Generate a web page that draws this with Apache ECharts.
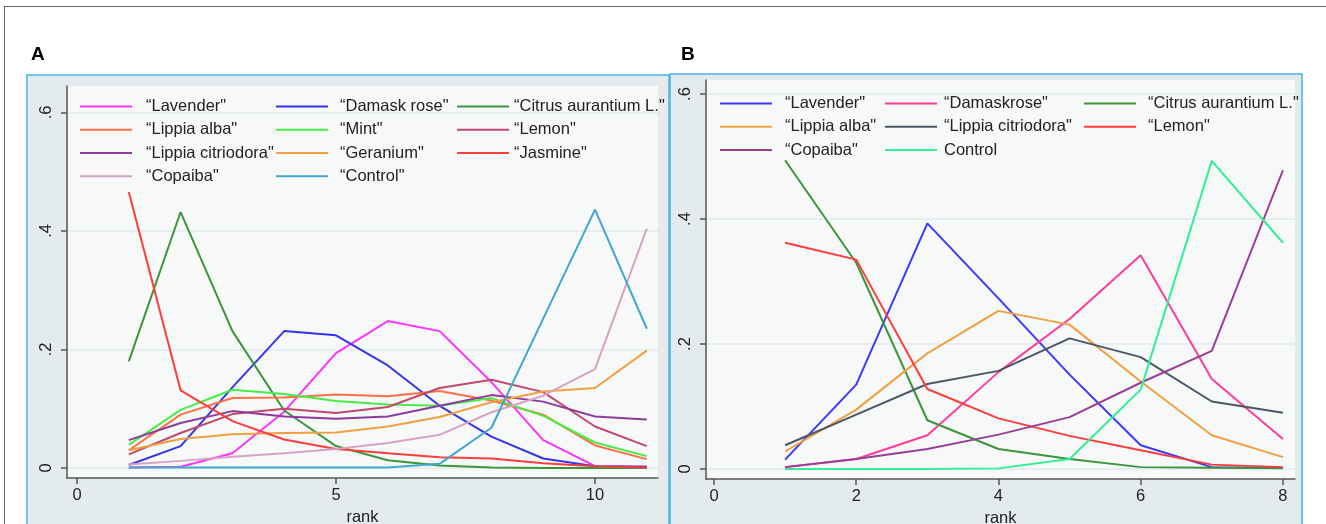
<!DOCTYPE html>
<html>
<head>
<meta charset="utf-8">
<script src="https://cdn.jsdelivr.net/npm/echarts@6/dist/echarts.min.js"></script>
<style>
html,body{margin:0;padding:0;background:#fff;width:1326px;height:524px;overflow:hidden;}
#frame{position:absolute;left:4px;top:6px;width:1330px;height:530px;border-top:1.5px solid #666;border-left:1.5px solid #666;}
#chartA{position:absolute;left:0;top:0;width:670px;height:524px;}
#chartB{position:absolute;left:669px;top:0;width:657px;height:524px;}
</style>
</head>
<body>
<div id="frame"></div>
<div id="chartA"></div>
<div id="chartB"></div>
<script>
// ---------- Panel A data ----------
const ranksA = [1,2,3,4,5,6,7,8,9,10,11];
const lavenderA   = [0.001,0.002,0.025,0.095,0.194,0.248,0.231,0.145,0.047,0.003,0.002];
const damaskRoseA = [0.005,0.037,0.136,0.231,0.224,0.173,0.105,0.053,0.016,0.003,0.002];
const citrusA     = [0.180,0.432,0.231,0.097,0.037,0.013,0.004,0.001,0.000,0.000,0.000];
const lippiaAlbaA = [0.030,0.090,0.118,0.119,0.124,0.121,0.130,0.114,0.090,0.038,0.015];
const mintA       = [0.039,0.098,0.132,0.125,0.113,0.107,0.105,0.118,0.088,0.043,0.020];
const lemonA      = [0.023,0.059,0.091,0.100,0.093,0.103,0.135,0.149,0.128,0.070,0.037];
const citriodoraA = [0.047,0.076,0.096,0.087,0.083,0.087,0.105,0.123,0.112,0.087,0.082];
const geraniumA   = [0.030,0.049,0.057,0.059,0.060,0.070,0.086,0.111,0.129,0.135,0.198];
const jasmineA    = [0.466,0.131,0.079,0.048,0.032,0.025,0.018,0.016,0.008,0.003,0.001];
const copaibaA    = [0.006,0.012,0.019,0.025,0.032,0.042,0.056,0.094,0.122,0.167,0.404];
const controlA    = [0.001,0.001,0.001,0.001,0.001,0.001,0.007,0.068,0.252,0.436,0.235];

// ---------- Panel B data ----------
const ranksB = [1,2,3,4,5,6,7,8];
const lavenderB   = [0.015,0.135,0.393,0.273,0.151,0.038,0.003,0.002];
const damaskRoseB = [0.003,0.016,0.054,0.155,0.240,0.342,0.144,0.048];
const citrusB     = [0.494,0.330,0.078,0.032,0.016,0.003,0.002,0.001];
const lippiaAlbaB = [0.028,0.095,0.185,0.253,0.231,0.140,0.054,0.019];
const citriodoraB = [0.038,0.087,0.136,0.157,0.209,0.179,0.108,0.090];
const lemonB      = [0.362,0.335,0.128,0.081,0.053,0.030,0.007,0.003];
const copaibaB    = [0.003,0.016,0.032,0.055,0.083,0.138,0.189,0.478];
const controlB    = [0.000,0.000,0.000,0.001,0.016,0.127,0.493,0.362];

// ---------- Tick labels ----------
const xTicksA = [0,5,10];
const xTicksB = [0,2,4,6,8];
const yTicks = [0,0.2,0.4,0.6];

const FONT = 'Liberation Sans';
const yFmt = v => (Math.abs(v) < 1e-9 ? '0' : String(+v.toFixed(1)).replace(/^0/, ''));

function pairs(xs, ys){ return xs.map((x,i)=>[x, ys[i]]); }
function mk(name, xs, ys, color){
  return {
    name: name, type: 'line', data: pairs(xs, ys), symbol: 'none', smooth: false,
    lineStyle: {width: 2, color: color}, itemStyle: {color: color}, z: 3
  };
}
function legendCol(left, top, names, pad){
  return {
    orient: 'vertical', left: left, top: top, padding: 0, itemGap: 0,
    itemWidth: 52, itemHeight: 2, icon: 'rect', selectedMode: false,
    data: names,
    textStyle: {fontFamily: FONT, fontSize: 16.5, color: '#222', lineHeight: 23.2, padding: [0,0,0,pad]}
  };
}
function axes(xmin, xmax, xticks, ymin, ymax){
  return {
    xAxis: {
      type: 'value', min: xmin, max: xmax, name: 'rank', nameLocation: 'middle', nameGap: 27,
      nameTextStyle: {fontFamily: FONT, fontSize: 16.5, color: '#222'},
      axisLine: {show: true, onZero: false, lineStyle: {color: '#555', width: 1.5}},
      axisTick: {show: true, inside: false, length: 6, customValues: xticks, lineStyle: {color: '#555', width: 1.5}},
      axisLabel: {customValues: xticks, margin: 9, fontFamily: FONT, fontSize: 16.5, color: '#222'},
      splitLine: {show: false}
    },
    yAxis: {
      type: 'value', min: ymin, max: ymax,
      axisLine: {show: true, onZero: false, lineStyle: {color: '#555', width: 1.5}},
      axisTick: {show: true, inside: false, length: 6, customValues: yTicks, lineStyle: {color: '#555', width: 1.5}},
      axisLabel: {customValues: yTicks, rotate: 90, margin: 12, formatter: yFmt, fontFamily: FONT, fontSize: 16.5, color: '#222'},
      splitLine: {show: true, lineStyle: {color: '#e3eaef', width: 1.5}}
    }
  };
}

// ---------- Chart A ----------
const nA = {
  lav: '\u201CLavender"', dam: '\u201CDamask rose"', cit: '\u201CCitrus aurantium L."',
  alb: '\u201CLippia alba"', mint: '\u201CMint"', lem: '\u201CLemon"',
  cdr: '\u201CLippia citriodora"', ger: '\u201CGeranium"', jas: '\u201CJasmine"',
  cop: '\u201CCopaiba"', ctl: '\u201CControl"'
};
const chartA = echarts.init(document.getElementById('chartA'), null, {renderer: 'canvas'});
const axA = axes(-0.193, 11.216, xTicksA, -0.0169, 0.6447);
chartA.setOption({
  animation: false,
  title: {text: 'A', left: 31, top: 45, padding: 0, textStyle: {fontFamily: FONT, fontSize: 19, fontWeight: 'bold', color: '#000'}},
  graphic: [{type: 'rect', z: -100, shape: {x: 27, y: 75, width: 642, height: 470}, style: {fill: '#e4ebef', stroke: '#49b3e4', lineWidth: 1.5}}],
  grid: {left: 67, right: 12, top: 86, bottom: 46, show: true, backgroundColor: '#f7f8f8', borderWidth: 0, containLabel: false, outerBoundsMode: 'none'},
  legend: [
    legendCol(80, 95, [nA.lav, nA.alb, nA.cdr, nA.cop], 9),
    legendCol(276, 95, [nA.dam, nA.mint, nA.ger, nA.ctl], 7),
    legendCol(457, 95, [nA.cit, nA.lem, nA.jas], 0)
  ],
  xAxis: axA.xAxis, yAxis: axA.yAxis,
  series: [
    mk(nA.lav, ranksA, lavenderA, '#ff33ff'),
    mk(nA.dam, ranksA, damaskRoseA, '#3535ee'),
    mk(nA.cit, ranksA, citrusA, '#3a963a'),
    mk(nA.alb, ranksA, lippiaAlbaA, '#ff6f45'),
    mk(nA.mint, ranksA, mintA, '#45ee45'),
    mk(nA.lem, ranksA, lemonA, '#c2486c'),
    mk(nA.cdr, ranksA, citriodoraA, '#8e3a9e'),
    mk(nA.ger, ranksA, geraniumA, '#f0a040'),
    mk(nA.jas, ranksA, jasmineA, '#ff3c3c'),
    mk(nA.cop, ranksA, copaibaA, '#d8a2c6'),
    mk(nA.ctl, ranksA, controlA, '#3fa8cc')
  ]
});

// ---------- Chart B ----------
const nB = {
  lav: '\u201CLavender"', dam: '\u201CDamaskrose"', cit: '\u201CCitrus aurantium L."',
  alb: '\u201CLippia alba"', cdr: '\u201CLippia citriodora"', lem: '\u201CLemon"',
  cop: '\u201CCopaiba"', ctl: 'Control'
};
const chartB = echarts.init(document.getElementById('chartB'), null, {renderer: 'canvas'});
const axB = axes(-0.1125, 8.17, xTicksB, -0.016, 0.6224);
chartB.setOption({
  animation: false,
  title: {text: 'B', left: 12, top: 45, padding: 0, textStyle: {fontFamily: FONT, fontSize: 19, fontWeight: 'bold', color: '#000'}},
  graphic: [{type: 'rect', z: -100, shape: {x: 1, y: 74, width: 632, height: 470}, style: {fill: '#e4ebef', stroke: '#49b3e4', lineWidth: 1.5}}],
  grid: {left: 37, right: 31, top: 80, bottom: 45, show: true, backgroundColor: '#f7f8f8', borderWidth: 0, containLabel: false, outerBoundsMode: 'none'},
  legend: [
    legendCol(51, 92, [nB.lav, nB.alb, nB.cop], 8),
    legendCol(216, 92, [nB.dam, nB.cdr, nB.ctl], 2),
    legendCol(415, 92, [nB.cit, nB.lem], 7)
  ],
  xAxis: axB.xAxis, yAxis: axB.yAxis,
  series: [
    mk(nB.lav, ranksB, lavenderB, '#3a3aff'),
    mk(nB.dam, ranksB, damaskRoseB, '#ff3c9a'),
    mk(nB.cit, ranksB, citrusB, '#3a963a'),
    mk(nB.alb, ranksB, lippiaAlbaB, '#f0a040'),
    mk(nB.cdr, ranksB, citriodoraB, '#4c5668'),
    mk(nB.lem, ranksB, lemonB, '#ff3c3c'),
    mk(nB.cop, ranksB, copaibaB, '#993d99'),
    mk(nB.ctl, ranksB, controlB, '#33ee99')
  ]
});
</script>
</body>
</html>
